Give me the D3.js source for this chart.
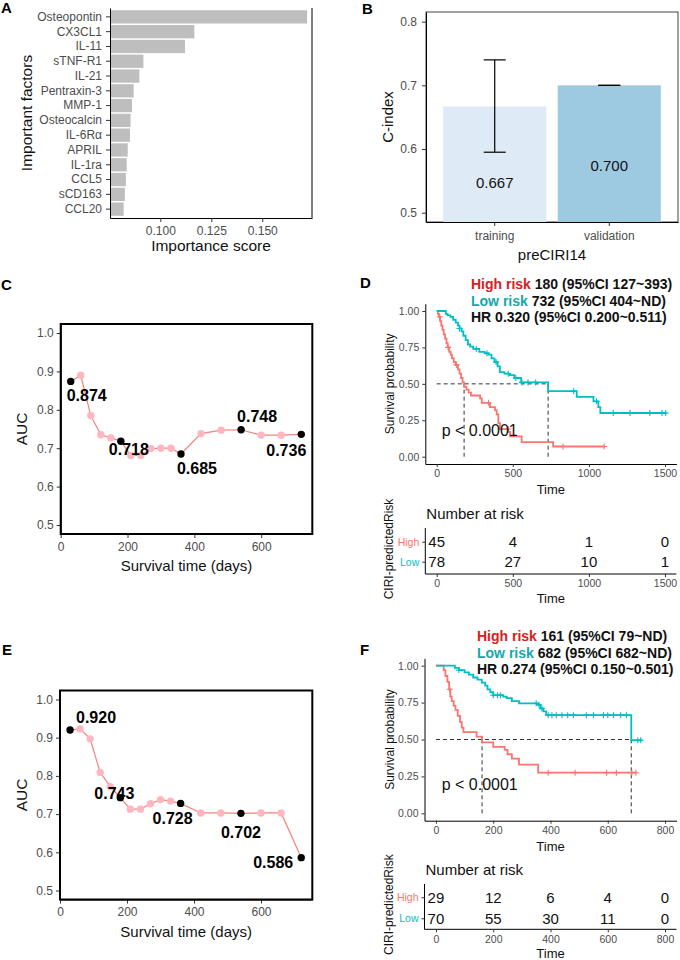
<!DOCTYPE html>
<html>
<head>
<meta charset="utf-8">
<script src="https://cdn.jsdelivr.net/npm/d3@7/dist/d3.min.js"></script>
<style>
  body { margin: 0; background: #fff; }
  svg text { font-family: "Liberation Sans", Arial, Helvetica, sans-serif; }
</style>
</head>
<body>
<div id="fig"></div>
<script>
// ---------- data ----------
const factorNames = ["Osteopontin", "CX3CL1", "IL-11", "sTNF-R1", "IL-21", "Pentraxin-3", "MMP-1",
  "Osteocalcin", "IL-6Rα", "APRIL", "IL-1ra", "CCL5", "sCD163", "CCL20"];
const factorScores = [0.172, 0.1167, 0.1121, 0.0917, 0.0897, 0.0869, 0.0861,
  0.0854, 0.0851, 0.0840, 0.0835, 0.0831, 0.0826, 0.0820];

const cGroups = ["training", "validation"];
const cValues = [0.667, 0.700];
const cLower = [0.595, 0.700];
const cUpper = [0.740, 0.700];

const aucTimes = [30, 60, 90, 120, 150, 180, 210, 240, 270, 300, 330, 360, 420, 480, 540, 600, 660, 720];
const aucTrain = [0.874, 0.890, 0.785, 0.735, 0.727, 0.718, 0.681, 0.681, 0.699, 0.700, 0.700, 0.685,
  0.738, 0.747, 0.748, 0.734, 0.734, 0.736];
const aucValid = [0.920, 0.923, 0.897, 0.809, 0.772, 0.743, 0.713, 0.713, 0.727, 0.738, 0.734, 0.728,
  0.703, 0.703, 0.702, 0.703, 0.703, 0.586];
const keyTimes = [30, 180, 360, 540, 720];

// KM curves, training (D)
const kmDHighT = [0, 8, 15, 22, 30, 38, 46, 55, 64, 72, 82, 92, 100, 112, 125, 140, 150, 160, 170, 180, 195,
  210, 225, 285, 296, 350, 383, 394, 405, 416, 471, 482, 558, 765, 1106];
const kmDHighS = [1, 0.98, 0.96, 0.93, 0.90, 0.87, 0.84, 0.81, 0.78, 0.75, 0.72, 0.70, 0.675, 0.65, 0.63, 0.60,
  0.57, 0.54, 0.51, 0.48, 0.46, 0.44, 0.42, 0.40, 0.37, 0.34, 0.32, 0.29, 0.23, 0.19, 0.17, 0.14, 0.10, 0.07, 0.07];
const kmDHighCens = [20, 75, 130, 340, 470, 830, 1100];
const kmDLowT = [0, 60, 72, 90, 108, 125, 140, 150, 163, 175, 190, 205, 220, 240, 280, 315, 340, 360, 380, 400,
  415, 445, 480, 510, 555, 732, 920, 1030, 1062, 1075, 1510];
const kmDLowS = [1, 0.98, 0.97, 0.96, 0.94, 0.92, 0.90, 0.88, 0.86, 0.83, 0.80, 0.77, 0.755, 0.74, 0.72, 0.71,
  0.70, 0.675, 0.65, 0.62, 0.58, 0.57, 0.56, 0.54, 0.51, 0.45, 0.41, 0.38, 0.34, 0.30, 0.30];
const kmDLowCens = [150, 260, 330, 390, 470, 520, 560, 600, 650, 900, 1050, 1160, 1270, 1400, 1480, 1505];
const riskTimesD = [0, 500, 1000, 1500];
const riskHighD = [45, 4, 1, 0];
const riskLowD = [78, 27, 10, 1];

// KM curves, validation (F)
const kmFHighT = [0, 27, 33, 40, 46, 50, 55, 62, 68, 76, 84, 90, 96, 142, 161, 200, 240, 250, 265, 290, 357, 700];
const kmFHighS = [1, 0.97, 0.93, 0.89, 0.84, 0.79, 0.76, 0.73, 0.70, 0.66, 0.62, 0.58, 0.55, 0.52, 0.48, 0.45,
  0.43, 0.40, 0.37, 0.33, 0.275, 0.275];
const kmFHighCens = [48, 392, 486, 596, 630, 684, 698];
const kmFLowT = [0, 66, 80, 100, 115, 130, 145, 160, 172, 180, 190, 200, 235, 247, 265, 290, 355, 365, 375, 385, 682, 720];
const kmFLowS = [1, 0.985, 0.97, 0.955, 0.94, 0.92, 0.905, 0.885, 0.865, 0.84, 0.82, 0.80, 0.79, 0.78, 0.76,
  0.745, 0.735, 0.71, 0.69, 0.665, 0.495, 0.495];
const kmFLowCens = [80, 200, 215, 225, 350, 360, 370, 392, 405, 420, 440, 460, 480, 525, 550, 585, 600, 620, 645, 665, 705, 715];
const riskTimesF = [0, 200, 400, 600, 800];
const riskHighF = [29, 12, 6, 4, 0];
const riskLowF = [70, 55, 30, 11, 0];

const HIGH = "#F8766D", LOW = "#00BFC4";

// ---------- helpers ----------
const svg = d3.select("#fig").append("svg").attr("width", 680).attr("height", 960);

function letter(t, x, y) {
  svg.append("text").attr("x", x).attr("y", y).attr("font-size", 15).attr("font-weight", "bold").text(t);
}
function styleAxis(g, fs) {
  g.selectAll("text").attr("fill", "#4d4d4d").attr("font-size", fs);
  g.selectAll(".tick line").attr("stroke", "#333");
  g.select(".domain").attr("stroke", "#000").attr("stroke-width", 1);
}
function title(x, y, t, fs, rot) {
  const el = svg.append("text").attr("text-anchor", "middle").attr("font-size", fs).attr("fill", "#111").text(t);
  if (rot) el.attr("transform", "translate(" + x + "," + y + ") rotate(-90)");
  else el.attr("x", x).attr("y", y);
  return el;
}

// ---------- A ----------
letter("A", 1, 13);
const xA = d3.scaleLinear().domain([0.0753, 0.1744]).range([110, 312]);
const yA = d3.scaleBand().domain(factorNames).range([8, 218]).paddingInner(0.1).paddingOuter(0.15);
const dataA = factorNames.map((n, i) => ({ name: n, score: factorScores[i] }));
svg.append("g").selectAll("rect").data(dataA).enter().append("rect")
  .attr("x", xA.range()[0])
  .attr("y", d => yA(d.name))
  .attr("width", d => xA(d.score) - xA.range()[0])
  .attr("height", yA.bandwidth())
  .attr("fill", "#bebebe");
styleAxis(svg.append("g").attr("transform", "translate(0,218)")
  .call(d3.axisBottom(xA).tickValues([0.1, 0.125, 0.15]).tickFormat(d3.format(".3f"))
    .tickSize(4).tickPadding(4).tickSizeOuter(0)), 12);
styleAxis(svg.append("g").attr("transform", "translate(110,0)")
  .call(d3.axisLeft(yA).tickSize(4).tickPadding(4).tickSizeOuter(0)), 12);
svg.append("line").attr("x1", 312).attr("x2", 312).attr("y1", 8).attr("y2", 218).attr("stroke", "#000");
title(211, 251, "Importance score", 15.5);
title(32, 113, "Important factors", 15.5, true);

// ---------- B ----------
letter("B", 362, 14);
const xB = d3.scaleBand().domain(cGroups).range([426, 678]).paddingInner(0.1).paddingOuter(0.15);
const yB = d3.scaleLinear().domain([0.4854, 0.8152]).range([222, 12]);
const dataB = cGroups.map((g, i) => ({ g: g, v: cValues[i], lo: cLower[i], hi: cUpper[i] }));
const fillB = d3.scaleOrdinal().domain(cGroups).range(["#deebf7", "#9ecae1"]);
svg.append("rect").attr("x", 426).attr("y", 12).attr("width", 252).attr("height", 210)
  .attr("fill", "none").attr("stroke", "#444");
const gB = svg.append("g");
gB.selectAll("rect").data(dataB).enter().append("rect")
  .attr("x", d => xB(d.g)).attr("width", xB.bandwidth())
  .attr("y", d => yB(d.v)).attr("height", d => yB.range()[0] - yB(d.v))
  .attr("fill", d => fillB(d.g));
dataB.forEach(d => {
  const cx = xB(d.g) + xB.bandwidth() / 2;
  const eb = gB.append("g").attr("stroke", "#000").attr("stroke-width", 1.2);
  eb.append("line").attr("x1", cx).attr("x2", cx).attr("y1", yB(d.lo)).attr("y2", yB(d.hi));
  eb.append("line").attr("x1", cx - 11).attr("x2", cx + 11).attr("y1", yB(d.lo)).attr("y2", yB(d.lo));
  eb.append("line").attr("x1", cx - 11).attr("x2", cx + 11).attr("y1", yB(d.hi)).attr("y2", yB(d.hi));
  gB.append("text").attr("x", cx).attr("y", yB(d.v * 0.82)).attr("dy", "0.35em")
    .attr("text-anchor", "middle").attr("font-size", 15).attr("fill", "#111").text(d.v.toFixed(3));
});
styleAxis(svg.append("g").attr("transform", "translate(0,222)")
  .call(d3.axisBottom(xB).tickSize(4).tickPadding(5).tickSizeOuter(0)), 12);
styleAxis(svg.append("g").attr("transform", "translate(426,0)")
  .call(d3.axisLeft(yB).tickValues([0.5, 0.6, 0.7, 0.8]).tickFormat(d3.format(".1f"))
    .tickSize(4).tickPadding(5).tickSizeOuter(0)), 12);
title(552, 260, "preCIRI14", 15);
title(393, 117, "C-index", 15, true);

// ---------- C / E ----------
function aucPanel(values, x0, x1, yTop, yBot, nudges) {
  const x = d3.scaleLinear().domain([0, 753]).range([x0, x1]);
  const y = d3.scaleLinear().domain([0.4765, 1.0235]).range([yBot, yTop]);
  const pts = aucTimes.map((t, i) => ({ t: t, v: values[i], key: keyTimes.includes(t) }));
  styleAxis(svg.append("g").attr("transform", "translate(0," + yBot + ")")
    .call(d3.axisBottom(x).tickValues([0, 200, 400, 600]).tickSize(4).tickPadding(4).tickSizeOuter(0)), 12);
  styleAxis(svg.append("g").attr("transform", "translate(" + x0 + ",0)")
    .call(d3.axisLeft(y).tickValues([0.5, 0.6, 0.7, 0.8, 0.9, 1.0]).tickFormat(d3.format(".1f"))
      .tickSize(4).tickPadding(3).tickSizeOuter(0)), 12);
  svg.append("rect").attr("x", x0).attr("y", yTop).attr("width", x1 - x0).attr("height", yBot - yTop)
    .attr("fill", "none").attr("stroke", "#000").attr("stroke-width", 2);
  svg.append("path").datum(pts)
    .attr("d", d3.line().x(d => x(d.t)).y(d => y(d.v)))
    .attr("fill", "none").attr("stroke", "#f4837b").attr("stroke-width", 1.2);
  svg.append("g").selectAll("circle").data(pts).enter().append("circle")
    .attr("cx", d => x(d.t)).attr("cy", d => y(d.v)).attr("r", 3.7)
    .attr("fill", d => d.key ? "#000" : "#ffb6c1");
  pts.filter(d => d.key).forEach((d, i) => {
    svg.append("text").attr("x", x(d.t) + nudges[i][0]).attr("y", y(d.v) + nudges[i][1])
      .attr("dy", "0.35em").attr("text-anchor", "middle")
      .attr("font-size", 16).attr("font-weight", "bold").text(d.v.toFixed(3));
  });
  title((x0 + x1) / 2, yBot + 37, "Survival time (days)", 15);
  title(27, (yTop + yBot) / 2, "AUC", 15.5, true);
}
letter("C", 1, 290);
aucPanel(aucTrain, 60.7, 312.3, 324, 534, [[16, 14], [8, 8], [16, 14], [16, -13], [-15, 16]]);
letter("E", 2, 655);
aucPanel(aucValid, 60, 312.3, 690.5, 899.5, [[26, -13], [-6, -4], [-8, 15], [0, 19], [-28, 5]]);

// ---------- D / F ----------
function survAt(T, S, t) {
  let s = S[0];
  for (let i = 0; i < T.length; i++) if (T[i] <= t) s = S[i];
  return s;
}
function kmPanel(o) {
  const x = d3.scaleLinear().domain(o.xDom).range([o.x0, o.x1]);
  const y = d3.scaleLinear().domain([-0.05, 1.05]).range([o.yBot, o.yTop]);
  styleAxis(svg.append("g").attr("transform", "translate(0," + o.yBot + ")")
    .call(d3.axisBottom(x).tickValues(o.ticks).tickFormat(d3.format("d"))
      .tickSize(3).tickPadding(3).tickSizeOuter(0)), 10.5);
  styleAxis(svg.append("g").attr("transform", "translate(" + o.x0 + ",0)")
    .call(d3.axisLeft(y).tickValues([0, 0.25, 0.5, 0.75, 1]).tickFormat(d3.format(".2f"))
      .tickSize(3).tickPadding(3).tickSizeOuter(0)), 10.5);
  // median lines
  const dash = svg.append("g").attr("stroke", "#333").attr("stroke-dasharray", "4,3").attr("stroke-width", 1);
  dash.append("line").attr("x1", x(0)).attr("x2", x(o.medians[1])).attr("y1", y(0.5)).attr("y2", y(0.5));
  o.medians.forEach(m => dash.append("line").attr("x1", x(m)).attr("x2", x(m)).attr("y1", y(0)).attr("y2", y(0.5)));
  const line = d3.line().curve(d3.curveStepAfter).x(d => x(d[0])).y(d => y(d[1]));
  o.curves.forEach(c => {
    const pts = c.T.map((t, i) => [t, c.S[i]]);
    svg.append("path").datum(pts).attr("d", line)
      .attr("fill", "none").attr("stroke", c.color).attr("stroke-width", 1.8);
    svg.append("g").selectAll("path").data(c.cens).enter().append("path")
      .attr("d", t => {
        const px = x(t), py = y(survAt(c.T, c.S, t));
        return "M" + (px - 3) + "," + py + "h6M" + px + "," + (py - 3) + "v6";
      })
      .attr("stroke", c.color).attr("stroke-width", 1.1);
  });
  svg.append("text").attr("x", 441.7).attr("y", o.pY).attr("font-size", 16).attr("fill", "#111").text("p < 0.0001");
  title((o.x0 + o.x1) / 2, o.yBot + 30, "Time", 13);
  title(394, (o.yTop + o.yBot) / 2, "Survival probability", 12, true);

  // legend text
  o.legend.forEach((L, i) => {
    const t = svg.append("text").attr("x", o.legX).attr("y", o.legY + i * 16.7)
      .attr("font-size", 14).attr("font-weight", "bold").attr("fill", "#111");
    t.append("tspan").attr("fill", L[1]).text(L[0]);
    t.append("tspan").text(L[2]);
  });

  // risk table
  const yr = d3.scalePoint().domain(["High", "Low"]).range(o.rowY);
  svg.append("text").attr("x", o.x0 + 1).attr("y", o.rTop - 9).attr("font-size", 15).attr("fill", "#111").text("Number at risk");
  const ax = svg.append("g").attr("transform", "translate(0," + o.rBot + ")")
    .call(d3.axisBottom(x).tickValues(o.ticks).tickFormat(d3.format("d"))
      .tickSize(3).tickPadding(3).tickSizeOuter(0));
  styleAxis(ax, 10.5);
  ax.select(".domain").attr("d", "M" + o.x0 + ",0H" + o.x1);
  const ay = svg.append("g").attr("transform", "translate(" + o.x0 + ",0)")
    .call(d3.axisLeft(yr).tickSize(3).tickPadding(3).tickSizeOuter(0));
  styleAxis(ay, 10.5);
  ay.select(".domain").attr("d", "M0," + o.rTop + "V" + o.rBot);
  ay.selectAll("text").attr("fill", d => d === "High" ? HIGH : LOW);
  [["High", o.riskHigh], ["Low", o.riskLow]].forEach(r => {
    svg.append("g").selectAll("text").data(o.ticks).enter().append("text")
      .attr("x", d => x(d)).attr("y", yr(r[0])).attr("dy", "0.36em").attr("text-anchor", "middle")
      .attr("font-size", 15).attr("fill", "#111").text((d, i) => r[1][i]);
  });
  title((o.x0 + o.x1) / 2, Math.min(o.rBot + 29, 958), "Time", 13);
  title(393, (o.rTop + o.rBot) / 2 - 2, "CIRI-predictedRisk", 12, true);
}

letter("D", 360, 288);
kmPanel({
  xDom: [-75, 1575], x0: 425.3, x1: 676.4, yTop: 303.7, yBot: 464, ticks: riskTimesD,
  medians: [180, 732], pY: 436, legX: 471, legY: 289,
  legend: [["High risk", "#d9201c", " 180 (95%CI 127~393)"], ["Low risk", "#18a6aa", " 732 (95%CI 404~ND)"],
    ["HR", "#111", " 0.320 (95%CI 0.200~0.511)"]],
  curves: [{ T: kmDHighT, S: kmDHighS, cens: kmDHighCens, color: HIGH },
    { T: kmDLowT, S: kmDLowS, cens: kmDLowCens, color: LOW }],
  rowY: [541.7, 561.7], rTop: 528, rBot: 574, riskHigh: riskHighD, riskLow: riskLowD
});

letter("F", 360, 655);
kmPanel({
  xDom: [-40, 840], x0: 424.5, x1: 676.5, yTop: 658.3, yBot: 820.7, ticks: riskTimesF,
  medians: [161, 682], pY: 790, legX: 477, legY: 641,
  legend: [["High risk", "#d9201c", " 161 (95%CI 79~ND)"], ["Low risk", "#18a6aa", " 682 (95%CI 682~ND)"],
    ["HR", "#111", " 0.274 (95%CI 0.150~0.501)"]],
  curves: [{ T: kmFHighT, S: kmFHighS, cens: kmFHighCens, color: HIGH },
    { T: kmFLowT, S: kmFLowS, cens: kmFLowCens, color: LOW }],
  rowY: [897.3, 918.3], rTop: 884, rBot: 929.3, riskHigh: riskHighF, riskLow: riskLowF
});
</script>
</body>
</html>
